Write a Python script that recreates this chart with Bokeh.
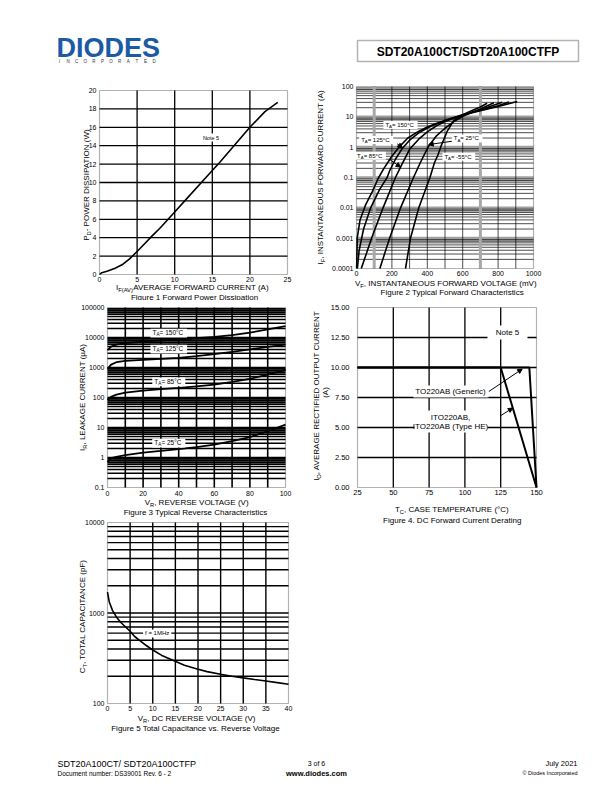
import math
from bokeh.plotting import figure
from bokeh.models import (Range1d, FixedTicker, Label, BoxAnnotation, Arrow, NormalHead,
                          CustomJSTickFormatter, NumeralTickFormatter, Spacer)
from bokeh.layouts import column, row
from bokeh.embed import file_html
from bokeh.resources import INLINE

FONT = "Liberation Sans"

# ---------------- data ----------------
# Figure 1: forward power dissipation
f1_current = [0, 0.3, 1, 2, 3, 4, 5, 6, 7, 8, 9, 10, 12, 14, 16, 18, 20, 22, 23.7]
f1_power = [0, 0.2, 0.35, 0.65, 1.05, 1.7, 2.5, 3.35, 4.2, 5.0, 5.9, 6.8, 8.6, 10.4, 12.2, 14.1, 16.0, 17.7, 18.7]
f1_xticks = [0, 5, 10, 15, 20, 25]
f1_yticks = [0, 2, 4, 6, 8, 10, 12, 14, 16, 18, 20]

# Figure 2: typical forward characteristics (mV, A)
f2_vf_150 = [1, 4, 20, 50, 90, 125, 155, 200, 240, 290, 350, 400, 450, 500, 550, 600, 700, 800, 908]
f2_if_150 = [0.0001, 0.001, 0.004, 0.012, 0.035, 0.1, 0.2, 0.5, 1.0, 2.0, 3.3, 4.6, 6.0, 7.6, 9.4, 11.5, 16, 22, 32]
f2_vf_125 = [5, 15, 40, 80, 130, 173, 188, 220, 258, 300, 350, 400, 450, 500, 550, 600, 700, 800, 861]
f2_if_125 = [0.0001, 0.0004, 0.002, 0.01, 0.04, 0.1, 0.17, 0.4, 0.9, 1.7, 2.9, 4.3, 5.8, 7.5, 9.5, 11.8, 16.5, 23, 31]
f2_vf_85 = [27, 55, 85, 150, 220, 260, 300, 350, 400, 450, 500, 600, 700, 823]
f2_if_85 = [0.0001, 0.0003, 0.001, 0.01, 0.1, 0.3, 0.85, 1.8, 3.2, 5.0, 7.0, 11.5, 17, 30]
f2_vf_25 = [132, 187, 249, 322, 365, 408, 450, 500, 550, 600, 700, 776]
f2_if_25 = [0.0001, 0.001, 0.01, 0.1, 0.35, 1.1, 2.3, 4.2, 7.0, 10.5, 18, 29]
f2_vf_m55 = [277, 305, 352, 415, 440, 460, 478, 512, 549, 597, 650, 700, 738]
f2_if_m55 = [0.0001, 0.001, 0.01, 0.1, 0.3, 0.55, 1.1, 3.3, 7.5, 11.5, 16, 21, 28]
f2_xticks = [0, 200, 400, 600, 800, 1000]
f2_yticks = [0.0001, 0.001, 0.01, 0.1, 1, 10, 100]

# Figure 3: typical reverse characteristics (V, uA)
f3_vr = [0, 2, 5, 10, 20, 30, 40, 50, 60, 70, 80, 90, 100]
f3_ir_150 = [3800, 5000, 5800, 6500, 7300, 8000, 8700, 9500, 10500, 12000, 14500, 18500, 24000]
f3_ir_125 = [900, 1250, 1500, 1650, 1800, 1950, 2100, 2400, 2800, 3300, 4000, 4900, 5800]
f3_ir_85 = [83, 105, 125, 145, 170, 190, 210, 235, 270, 330, 420, 580, 830]
f3_ir_25 = [0.7, 0.95, 1.05, 1.2, 1.45, 1.65, 1.9, 2.2, 2.7, 3.5, 4.8, 7.5, 12.5]
f3_xticks = [0, 20, 40, 60, 80, 100]
f3_yticks = [0.1, 1, 10, 100, 1000, 10000, 100000]

# Figure 4: DC forward current derating
f4_tc_generic = [25, 145, 150]
f4_io_generic = [10, 10, 0]
f4_tc_ito = [25, 125, 150]
f4_io_ito = [10, 10, 0]
f4_xticks = [25, 50, 75, 100, 125, 150]
f4_yticks = [0, 2.5, 5, 7.5, 10, 12.5, 15]

# Figure 5: total capacitance vs reverse voltage
f5_vr = [0, 0.4, 1.1, 2, 2.9, 4, 5.1, 6, 7.3, 8.5, 10, 12, 14.7, 17, 19.8, 22, 25, 27.5, 30, 32.5, 35, 37.5, 40]
f5_ct = [1700, 1320, 1070, 900, 790, 700, 620, 550, 490, 440, 390, 340, 297, 265, 240, 225, 210, 200, 192, 184, 177, 170, 163]
f5_xticks = [0, 5, 10, 15, 20, 25, 30, 35, 40]
f5_yticks = [100, 1000, 10000]

# ---------------- helpers ----------------
AW = {' ': 278, '(': 333, ')': 333, ',': 278, '.': 278, '-': 333, '/': 278, '=': 584, '°': 400,
      'µ': 556, ':': 278, '©': 737}
for ch, w in zip("ABCDEFGHIJKLMNOPQRSTUVWXYZ",
                 [667, 667, 722, 722, 667, 611, 778, 722, 278, 500, 667, 556, 833, 722, 778, 667,
                  778, 722, 667, 611, 722, 667, 944, 667, 667, 611]):
    AW[ch] = w
for ch, w in zip("abcdefghijklmnopqrstuvwxyz",
                 [556, 556, 500, 556, 556, 278, 556, 556, 222, 222, 500, 222, 833, 556, 556, 556,
                  556, 333, 500, 278, 556, 500, 722, 500, 500, 500]):
    AW[ch] = w


def tw(text, size):
    return sum(AW.get(ch, 556) for ch in text) / 1000.0 * size


BLOCKS = {}


def make_chart(name, block, frame, xlim, ylim, ylog=False):
    """Figure covering the whole block; the chart area (frame) is placed by extending the ranges,
    and the axes are drawn at fixed locations on the chart edges."""
    bx0, by0, bx1, by1 = block
    lx0, ly0, lx1, ly1 = frame
    dx = (xlim[1] - xlim[0]) / (lx1 - lx0)
    xr = Range1d(xlim[0] - (lx0 - bx0) * dx, xlim[1] + (bx1 - lx1) * dx)
    if ylog:
        a, b = math.log10(ylim[0]), math.log10(ylim[1])
        dy = (b - a) / (ly1 - ly0)
        yr = Range1d(10 ** (a - (by1 - ly1) * dy), 10 ** (b + (ly0 - by0) * dy))
    else:
        dy = (ylim[1] - ylim[0]) / (ly1 - ly0)
        yr = Range1d(ylim[0] - (by1 - ly1) * dy, ylim[1] + (ly0 - by0) * dy)
    p = figure(width=bx1 - bx0, height=by1 - by0, x_range=xr, y_range=yr,
               y_axis_type="log" if ylog else "linear", output_backend="svg",
               toolbar_location=None, min_border=0)
    BLOCKS[name] = (block, xlim, ylim)
    p.xgrid.visible = False
    p.ygrid.visible = False
    p.outline_line_color = None
    p.background_fill_color = "white"
    p.border_fill_color = "white"
    p.xaxis[0].fixed_location = ylim[0]
    p.yaxis[0].fixed_location = xlim[0]
    for ax in (p.xaxis[0], p.yaxis[0]):
        ax.axis_line_color = None
        ax.major_tick_line_color = None
        ax.minor_tick_line_color = None
        ax.major_tick_out = 0
        ax.major_tick_in = 0
        ax.minor_tick_out = 0
        ax.minor_tick_in = 0
        ax.major_label_text_font = FONT
        ax.major_label_text_font_size = "7px"
        ax.major_label_text_color = "black"
    return p


def frame_border(p, name, width=1.2):
    _, xlim, ylim = BLOCKS[name]
    p.add_layout(BoxAnnotation(left=xlim[0], right=xlim[1], bottom=ylim[0], top=ylim[1],
                               fill_color=None, fill_alpha=0, line_color="black",
                               line_width=width))


def set_ticks(p, xt, yt, xstand=2, ystand=3, ysize="7px", xsize="7px"):
    p.xaxis[0].ticker = FixedTicker(ticks=xt, minor_ticks=[])
    p.yaxis[0].ticker = FixedTicker(ticks=yt, minor_ticks=[])
    p.xaxis[0].major_label_standoff = xstand
    p.yaxis[0].major_label_standoff = ystand
    p.xaxis[0].major_label_text_font_size = xsize
    p.yaxis[0].major_label_text_font_size = ysize


def vgrid(p, name, xs, color="black", width=1.0):
    _, xlim, ylim = BLOCKS[name]
    p.segment(x0=xs, y0=[ylim[0]] * len(xs), x1=xs, y1=[ylim[1]] * len(xs),
              line_color=color, line_width=width)


def hgrid(p, name, ys, color="black", width=1.0):
    _, xlim, ylim = BLOCKS[name]
    p.segment(x0=[xlim[0]] * len(ys), y0=ys, x1=[xlim[1]] * len(ys), y1=ys,
              line_color=color, line_width=width)


def txt(p, name, px, py, text, size, align="center", angle=0.0, bold=False, color="black"):
    bb = BLOCKS[name][0]
    p.add_layout(Label(x=px - bb[0], y=bb[3] - py, x_units="screen", y_units="screen",
                       text=text, angle=angle, text_align=align, text_baseline="middle",
                       text_font=FONT, text_font_size=f"{size}px",
                       text_font_style="bold" if bold else "normal", text_color=color))


def wbox(p, name, x0, y0, x1, y1):
    bb = BLOCKS[name][0]
    p.add_layout(BoxAnnotation(left=x0 - bb[0], right=x1 - bb[0], bottom=bb[3] - y1, top=bb[3] - y0,
                               left_units="screen", right_units="screen",
                               top_units="screen", bottom_units="screen",
                               fill_color="white", fill_alpha=1.0, line_color=None))


def rich(p, name, segs, cx, cy, size, vertical=False, bg=False):
    sub = 0.72
    widths = [tw(t, size * (sub if s else 1.0)) for t, s in segs]
    total = sum(widths)
    if bg:
        wbox(p, name, cx - total / 2 - 2, cy - 0.62 * size, cx + total / 2 + 2, cy + 0.72 * size)
    pos = -total / 2
    for (t, s), w in zip(segs, widths):
        fs = size * (sub if s else 1.0)
        off = 0.33 * size if s else 0.0
        if vertical:
            txt(p, name, cx + off, cy - pos, t, round(fs, 2), align="left", angle=math.pi / 2)
        else:
            txt(p, name, cx + pos, cy + off, t, round(fs, 2), align="left")
        pos += w


def arrow(p, x0, y0, x1, y1):
    p.add_layout(Arrow(end=NormalHead(size=4.5, fill_color="black", line_color="black"),
                       x_start=x0, y_start=y0, x_end=x1, y_end=y1,
                       line_color="black", line_width=1.0))


log_fmt = CustomJSTickFormatter(code="return tick < 1 ? String(tick) : tick.toFixed(0);")

# ---------------- header ----------------
hdr = figure(width=596, height=72, x_range=Range1d(8, 604), y_range=Range1d(80, 8),
             output_backend="svg", toolbar_location=None, min_border=0,
             x_axis_location=None, y_axis_location=None)
hdr.grid.visible = False
hdr.outline_line_color = None
hdr.add_layout(Label(x=56, y=47, text="DIODES", text_font=FONT, text_font_size="27px",
                     text_font_style="bold", text_color="#1c5aa6", text_baseline="middle",
                     text_align="left"))
for i, ch in enumerate("INCORPORATED"):
    hdr.add_layout(Label(x=59 + i * 8.6, y=60.5, text=ch, text_font=FONT, text_font_size="4.5px",
                         text_color="#333333", text_baseline="middle", text_align="center"))
hdr.add_layout(BoxAnnotation(left=357, right=578, top=40, bottom=61, fill_color=None,
                             line_color="black", line_width=1.5))
hdr.add_layout(Label(x=467.5, y=51, text="SDT20A100CT/SDT20A100CTFP", text_font=FONT,
                     text_font_size="12px", text_font_style="bold", text_color="black",
                     text_baseline="middle", text_align="center"))

# ---------------- figure 1 ----------------
f1 = make_chart("f1", (8, 80, 306, 300), (99, 90, 287, 274), (0, 25), (0, 20))
set_ticks(f1, f1_xticks, f1_yticks, xstand=2, ystand=3)
vgrid(f1, "f1", [5, 10, 15, 20], "black", 1.3)
hgrid(f1, "f1", [2, 4, 6, 8, 10, 12, 14, 16, 18], "black", 1.3)
f1.line(f1_current, f1_power, line_color="black", line_width=1.6)
frame_border(f1, "f1")
wbox(f1, "f1", 201, 133, 220, 141)
txt(f1, "f1", 210.5, 137, "Note 5", 5.5)
rich(f1, "f1", [("P", False), ("D", True), ("- POWER DISSIPATION (W)", False)], 85.5, 184, 8, vertical=True)
rich(f1, "f1", [("I", False), ("F(AV)", True), (" AVERAGE FORWARD CURRENT (A)", False)], 193.5, 287, 8)
txt(f1, "f1", 194, 296.5, "Figure 1 Forward Power Dissipation", 8)

# ---------------- figure 2 ----------------
f2 = make_chart("f2", (306, 80, 604, 300), (356, 86, 533, 268), (0, 1000), (0.0001, 100), ylog=True)
set_ticks(f2, f2_xticks, f2_yticks, xstand=2, ystand=3)
f2.yaxis[0].formatter = log_fmt
hgrid(f2, "f2", [0.8 * 10.0 ** n for n in range(-3, 3)], "#c4c4c4", 2)
hgrid(f2, "f2", [0.001, 0.01, 0.1, 1, 10], "#a0a0a0", 2.6)
hgrid(f2, "f2", [k * 10.0 ** n for n in range(-4, 2) for k in range(2, 10)], "black", 0.7)
vgrid(f2, "f2", [100, 700], "#a8a8a8", 3)
vgrid(f2, "f2", [200, 300, 400, 500, 600, 800, 900], "black", 0.7)
for vx, iy in ((f2_vf_150, f2_if_150), (f2_vf_125, f2_if_125), (f2_vf_85, f2_if_85),
               (f2_vf_25, f2_if_25), (f2_vf_m55, f2_if_m55)):
    f2.line(vx, iy, line_color="black", line_width=1.6)
frame_border(f2, "f2")
arrow(f2, 230, 1.29, 258, 0.95)
arrow(f2, 188, 0.39, 249, 0.22)
arrow(f2, 541, 1.57, 408, 1.22)
rich(f2, "f2", [("T", False), ("A", True), (" = 150°C", False)], 400, 124.3, 6, bg=True)
rich(f2, "f2", [("T", False), ("A", True), (" = 125°C", False)], 375.7, 139.3, 6, bg=True)
rich(f2, "f2", [("T", False), ("A", True), (" = 85°C", False)], 370, 155, 6, bg=True)
rich(f2, "f2", [("T", False), ("A", True), (" = 25°C", False)], 466.7, 137.7, 6, bg=True)
rich(f2, "f2", [("T", False), ("A", True), (" = -55°C", False)], 458.3, 156, 6, bg=True)
rich(f2, "f2", [("I", False), ("F", True), (", INSTANTANEOUS FORWARD CURRENT (A)", False)], 320, 176, 8, vertical=True)
rich(f2, "f2", [("V", False), ("F", True), (", INSTANTANEOUS FORWARD VOLTAGE (mV)", False)], 446.7, 282.7, 8)
txt(f2, "f2", 451.7, 292, "Figure 2 Typical Forward Characteristics", 8)

# ---------------- figure 3 ----------------
f3 = make_chart("f3", (8, 300, 306, 517), (107, 307, 285, 487), (0, 100), (0.1, 100000), ylog=True)
set_ticks(f3, f3_xticks, f3_yticks, xstand=3, ystand=3)
f3.yaxis[0].formatter = log_fmt
hgrid(f3, "f3", [k * 10.0 ** n for n in range(-1, 5) for k in range(1, 10)][1:], "black", 1.6)
vgrid(f3, "f3", [10, 20, 30, 40, 50, 60, 70, 80, 90], "black", 1.6)
for iy in (f3_ir_150, f3_ir_125, f3_ir_85, f3_ir_25):
    f3.line(f3_vr, iy, line_color="black", line_width=1.8)
frame_border(f3, "f3")
rich(f3, "f3", [("T", False), ("A", True), (" = 150°C", False)], 168.3, 332.3, 6.5, bg=True)
rich(f3, "f3", [("T", False), ("A", True), (" = 125°C", False)], 168.3, 348.3, 6.5, bg=True)
rich(f3, "f3", [("T", False), ("A", True), (" = 85°C", False)], 168.3, 381, 6.5, bg=True)
rich(f3, "f3", [("T", False), ("A", True), (" = 25°C", False)], 168.3, 442.3, 6.5, bg=True)
rich(f3, "f3", [("I", False), ("R", True), (", LEAKAGE CURRENT (µA)", False)], 82, 397, 8, vertical=True)
rich(f3, "f3", [("V", False), ("R", True), (", REVERSE VOLTAGE (V)", False)], 196.7, 502.3, 8)
txt(f3, "f3", 195, 511.7, "Figure 3 Typical Reverse Characteristics", 8)

# ---------------- figure 4 ----------------
f4 = make_chart("f4", (306, 300, 604, 530), (357, 307, 536, 487), (25, 150), (0, 15))
set_ticks(f4, f4_xticks, f4_yticks, xstand=2, ystand=8, ysize="7.5px", xsize="7.5px")
f4.yaxis[0].formatter = NumeralTickFormatter(format="0.00")
vgrid(f4, "f4", [50, 75, 100, 125], "black", 1.3)
hgrid(f4, "f4", [2.5, 5, 7.5, 10, 12.5], "black", 1.3)
f4.line(f4_tc_generic, f4_io_generic, line_color="black", line_width=2)
f4.line(f4_tc_ito, f4_io_ito, line_color="black", line_width=2)
frame_border(f4, "f4")
wbox(f4, "f4", 487, 325, 527, 339)
txt(f4, "f4", 507, 332, "Note 5", 8)
wbox(f4, "f4", 413, 385, 488, 397)
txt(f4, "f4", 450, 391, "TO220AB (Generic)", 8)
wbox(f4, "f4", 414, 410, 487, 432)
txt(f4, "f4", 450, 416.7, "ITO220AB,", 8)
txt(f4, "f4", 450, 426, "ITO220AB (Type HE)", 8)
arrow(f4, 116.7, 8.0, 140.0, 9.87)
arrow(f4, 124.9, 5.98, 133.4, 6.62)
rich(f4, "f4", [("I", False), ("O", True), (", AVERAGE RECTIFIED OUTPUT CURRENT", False)], 316, 395, 8, vertical=True)
txt(f4, "f4", 325, 392, "(A)", 8, angle=math.pi / 2)
rich(f4, "f4", [("T", False), ("C", True), (", CASE TEMPERATURE (°C)", False)], 451.7, 509.3, 8)
txt(f4, "f4", 451.7, 520, "Figure 4. DC Forward Current Derating", 8)

# ---------------- figure 5 ----------------
f5 = make_chart("f5", (8, 517, 306, 745), (107, 522, 288, 703), (0, 40), (100, 10000), ylog=True)
set_ticks(f5, f5_xticks, f5_yticks, xstand=2, ystand=3)
f5.yaxis[0].formatter = log_fmt
hgrid(f5, "f5", [k * 10.0 ** n for n in range(2, 4) for k in range(1, 10)][1:], "black", 1.4)
vgrid(f5, "f5", [5, 10, 15, 20, 25, 30, 35], "black", 1.4)
f5.line(f5_vr, f5_ct, line_color="black", line_width=1.6)
frame_border(f5, "f5")
rich(f5, "f5", [("f = 1MHz", False)], 156.7, 632.7, 6, bg=True)
rich(f5, "f5", [("C", False), ("T", True), (", TOTAL CAPACITANCE (pF)", False)], 81.7, 615, 8, vertical=True)
rich(f5, "f5", [("V", False), ("R", True), (", DC REVERSE VOLTAGE (V)", False)], 196.7, 718.3, 8)
txt(f5, "f5", 195, 728.3, "Figure 5 Total Capacitance vs. Reverse Voltage", 8)

# ---------------- footer ----------------
ftr = figure(width=596, height=39, x_range=Range1d(8, 604), y_range=Range1d(784, 745),
             output_backend="svg", toolbar_location=None, min_border=0,
             x_axis_location=None, y_axis_location=None)
ftr.grid.visible = False
ftr.outline_line_color = None


def ftxt(x, y, text, size, align, bold=False):
    ftr.add_layout(Label(x=x, y=y, text=text, text_font=FONT, text_font_size=f"{size}px",
                         text_font_style="bold" if bold else "normal", text_color="black",
                         text_baseline="middle", text_align=align))


ftxt(57, 763, "SDT20A100CT/ SDT20A100CTFP", 9, "left")
ftxt(57, 772.5, "Document number: DS39001 Rev. 6 - 2", 6.5, "left")
ftxt(316, 763, "3 of 6", 7, "center")
ftxt(316, 773, "www.diodes.com", 7.5, "center", bold=True)
ftxt(577, 763, "July 2021", 7.5, "right")
ftxt(577, 772.5, "© Diodes Incorporated", 5.5, "right")

sp = Spacer(width=298, height=215)
left_col = column(f1, f3, f5, spacing=0)
right_col = column(f2, f4, sp, spacing=0)
page = column(hdr, row(left_col, right_col, spacing=0), ftr, spacing=0, margin=(8, 0, 0, 8))

open("out.html", "w").write(file_html(page, INLINE))
